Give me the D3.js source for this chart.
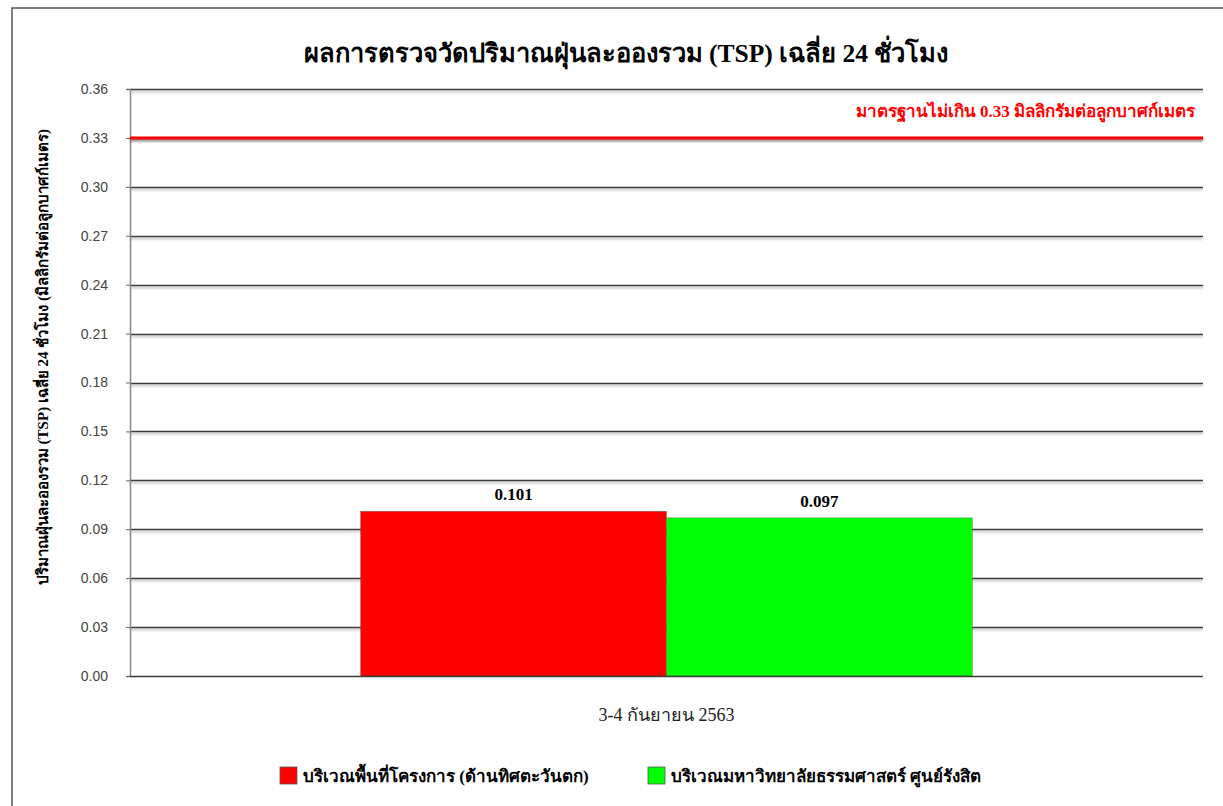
<!DOCTYPE html>
<html>
<head>
<meta charset="utf-8">
<script src="https://cdn.jsdelivr.net/npm/d3@7"></script>
<style>
  body { margin: 0; background: #fff; }
  svg { display: block; }
</style>
</head>
<body>
<svg id="chart" width="1223" height="806"></svg>
<script>
var categories = ["3-4 กันยายน 2563"];
var seriesNames = ["บริเวณพื้นที่โครงการ (ด้านทิศตะวันตก)", "บริเวณมหาวิทยาลัยธรรมศาสตร์ ศูนย์รังสิต"];
var seriesValues = [0.101, 0.097];
var yTicks = [0, 0.03, 0.06, 0.09, 0.12, 0.15, 0.18, 0.21, 0.24, 0.27, 0.30, 0.33, 0.36];
var standardValue = 0.33;
var standardLabel = "มาตรฐานไม่เกิน 0.33 มิลลิกรัมต่อลูกบาศก์เมตร";
var title = "ผลการตรวจวัดปริมาณฝุ่นละอองรวม (TSP) เฉลี่ย 24 ชั่วโมง";
var yTitle = "ปริมาณฝุ่นละอองรวม (TSP) เฉลี่ย 24 ชั่วโมง (มิลลิกรัมต่อลูกบาศก์เมตร)";

var colors = ["#ff0000", "#00ff00"];
var serif = "'Liberation Serif', 'DejaVu Serif', serif";
var sans = "'Liberation Sans', 'DejaVu Sans', sans-serif";

var svg = d3.select("#chart"),
    margin = {left: 130, right: 20, top: 89, bottom: 130},
    width = 1203 - margin.left,
    height = 676 - margin.top;

var defs = svg.append("defs");
var shadow = defs.append("filter").attr("id", "shadow")
  .attr("filterUnits", "userSpaceOnUse")
  .attr("x", -10).attr("y", -20).attr("width", 1300).attr("height", 700);
shadow.append("feDropShadow").attr("dx", 0).attr("dy", 2).attr("stdDeviation", 1.2)
  .attr("flood-color", "#000").attr("flood-opacity", 0.3);

// outer frame (runs off the right and bottom edges)
svg.append("rect").attr("x", 12).attr("y", 8).attr("width", 1300).attr("height", 900)
  .attr("fill", "none").attr("stroke", "#555").attr("stroke-width", 1.5);

var g = svg.append("g").attr("transform", "translate(" + margin.left + "," + margin.top + ")");

var y = d3.scaleLinear().domain([0, 0.36]).range([height, 0]);
var x0 = d3.scaleBand().domain(categories).range([0, width]).paddingInner(0).paddingOuter(0.377);
var x1 = d3.scaleBand().domain(seriesNames).range([0, x0.bandwidth()]);

// gridlines
g.append("g").selectAll("line").data(yTicks.filter(function(d) { return d > 0; })).enter().append("line")
  .attr("x1", 0).attr("x2", width)
  .attr("y1", function(d) { return Math.round(y(d)) + 0.5; })
  .attr("y2", function(d) { return Math.round(y(d)) + 0.5; })
  .attr("stroke", "#3a3a3a").attr("stroke-width", 1.5)
  .attr("filter", "url(#shadow)");

// y axis
var yAxis = g.append("g").call(d3.axisLeft(y).tickValues(yTicks).tickFormat(d3.format(".2f")).tickSize(4).tickPadding(18));
yAxis.select(".domain").attr("stroke", "#888").attr("stroke-width", 1.5);
yAxis.selectAll(".tick line").attr("stroke", "#666");
yAxis.selectAll("text").attr("font-family", sans).attr("font-size", 14).attr("fill", "#444");

// bars
var bars = g.append("g").selectAll("g").data(categories).enter().append("g")
  .attr("transform", function(d) { return "translate(" + x0(d) + ",0)"; });

bars.selectAll("rect").data(seriesValues.map(function(v, i) { return {name: seriesNames[i], value: v, i: i}; }))
  .enter().append("rect")
  .attr("x", function(d) { return x1(d.name); })
  .attr("y", function(d) { return y(d.value); })
  .attr("width", x1.bandwidth())
  .attr("height", function(d) { return height - y(d.value); })
  .attr("fill", function(d) { return colors[d.i]; })
  .attr("stroke", "#555").attr("stroke-width", 0.6).attr("stroke-opacity", 0.6);

bars.selectAll("text").data(seriesValues.map(function(v, i) { return {name: seriesNames[i], value: v}; }))
  .enter().append("text")
  .attr("x", function(d) { return x1(d.name) + x1.bandwidth() / 2; })
  .attr("y", function(d) { return y(d.value) - 11; })
  .attr("text-anchor", "middle")
  .attr("font-family", serif).attr("font-weight", "bold").attr("font-size", 17)
  .text(function(d) { return d3.format(".3f")(d.value); });

// x axis baseline
g.append("line").attr("x1", 0).attr("x2", width).attr("y1", height + 0.5).attr("y2", height + 0.5)
  .attr("stroke", "#3a3a3a").attr("stroke-width", 1.5);

g.append("g").selectAll("text").data(categories).enter().append("text")
  .attr("x", function(d) { return x0(d) + x0.bandwidth() / 2; })
  .attr("y", height + 45)
  .attr("text-anchor", "middle")
  .attr("font-family", serif).attr("font-size", 18).attr("fill", "#222")
  .text(function(d) { return d; });

// standard line
g.append("line").attr("x1", 0).attr("x2", width)
  .attr("y1", y(standardValue)).attr("y2", y(standardValue))
  .attr("stroke", "#ff0000").attr("stroke-width", 3)
  .attr("filter", "url(#shadow)");

g.append("text").attr("x", width - 8).attr("y", y(standardValue) - 21)
  .attr("text-anchor", "end")
  .attr("font-family", serif).attr("font-weight", "bold").attr("font-size", 17).attr("fill", "#ff0000")
  .text(standardLabel);

// title
svg.append("text").attr("x", 626).attr("y", 62).attr("text-anchor", "middle")
  .attr("font-family", serif).attr("font-weight", "bold").attr("font-size", 25.5)
  .text(title);

// y axis title
svg.append("text")
  .attr("transform", "translate(48,357) rotate(-90)")
  .attr("text-anchor", "middle")
  .attr("font-family", serif).attr("font-weight", "bold").attr("font-size", 15)
  .text(yTitle);

// legend
var legend = svg.append("g").selectAll("g").data(seriesNames).enter().append("g")
  .attr("transform", function(d, i) { return "translate(" + [280, 648][i] + ",767)"; });
legend.append("rect").attr("width", 17).attr("height", 17)
  .attr("fill", function(d, i) { return colors[i]; })
  .attr("stroke", "#555").attr("stroke-width", 0.8);
legend.append("text").attr("x", 23).attr("y", 15)
  .attr("font-family", serif).attr("font-weight", "bold").attr("font-size", 17)
  .text(function(d) { return d; });
</script>
</body>
</html>
